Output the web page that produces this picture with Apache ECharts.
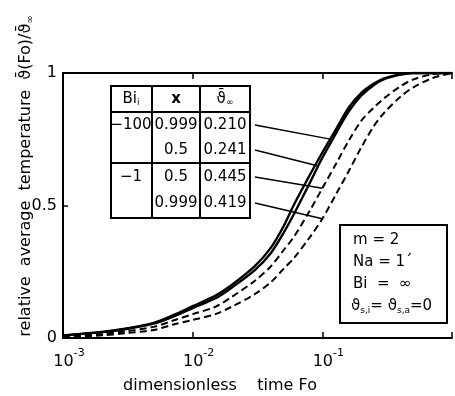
<!DOCTYPE html>
<html><head><meta charset="utf-8">
<script src="https://cdn.jsdelivr.net/npm/echarts@6/dist/echarts.min.js"></script>
<style>html,body{margin:0;padding:0;background:#fff}#c{width:455px;height:396px}</style>
</head><body><div id="c"></div>
<script>
// Fourier number grid (x axis, log scale)
const foGrid = [0.001,0.002,0.003,0.005,0.007,0.01,0.015,0.02,0.03,0.04,0.05,0.06,0.08,0.1,0.13,0.16,0.2,0.25,0.3,0.4,0.5,0.7,1];
// Bi_i = -100, x = 0.999 (solid)
const solidA = [0.01,0.023,0.035,0.057,0.085,0.12,0.16,0.20,0.27,0.34,0.42,0.50,0.615,0.70,0.795,0.87,0.925,0.96,0.98,0.995,1,1,1];
// Bi_i = -100, x = 0.5 (solid)
const solidB = [0.01,0.022,0.033,0.054,0.08,0.113,0.15,0.19,0.255,0.32,0.395,0.465,0.585,0.68,0.78,0.855,0.915,0.955,0.977,0.994,1,1,1];
// Bi_i = -1, x = 0.5 (dashed)
const dashed1 = [0.005,0.015,0.025,0.042,0.065,0.09,0.118,0.155,0.215,0.27,0.33,0.38,0.48,0.565,0.665,0.745,0.82,0.87,0.905,0.95,0.975,0.995,1];
// Bi_i = -1, x = 0.999 (dashed)
const dashed2 = [0.003,0.01,0.018,0.03,0.05,0.068,0.09,0.118,0.165,0.21,0.26,0.30,0.38,0.45,0.55,0.63,0.72,0.80,0.85,0.91,0.945,0.98,1];

// table contents
const tableBi = ['\u2212100', '', '\u22121', ''];
const tableX = ['0.999', '0.5', '0.5', '0.999'];
const tableTheta = ['0.210', '0.241', '0.445', '0.419'];
// leader line targets (which curve, at which Fo)
const leaderCurves = [solidA, solidB, dashed1, dashed2];
const leaderFo = [0.115, 0.093, 0.1, 0.1];

const yTicks = [0, 0.5, 1];

const FONT = 'DejaVu Sans';
const chart = echarts.init(document.getElementById('c'));

function toPairs(arr){ return foGrid.map((f,i)=>[f, arr[i]]); }
function interp(arr, fo){
  const lf = Math.log10(fo);
  for (let i=0;i<foGrid.length-1;i++){
    const a=Math.log10(foGrid[i]), b=Math.log10(foGrid[i+1]);
    if (lf>=a && lf<=b){ const t=(lf-a)/(b-a); return arr[i]+(arr[i+1]-arr[i])*t; }
  }
  return arr[arr.length-1];
}

const supRich = {
  b: {fontFamily: FONT, fontSize: 16, color: '#000', lineHeight: 22, verticalAlign: 'bottom', padding:[0,0,0,12]},
  s: {fontFamily: FONT, fontSize: 11, color: '#000', lineHeight: 22, verticalAlign: 'top', padding: [0,0,10,0]}
};

const lineStyleSolid = {color:'#000', width:2.4, type:'solid'};
const lineStyleDashed = {color:'#000', width:2, type:[7,4]};

function mkSeries(name, arr, style){
  return {name, type:'line', data: toPairs(arr), showSymbol:false, smooth:0.3,
    lineStyle: style, silent:true, animation:false, clip:true};
}

const gridLeft = 63, gridTop = 73, gridW = 394, gridH = 265;

const option = {
  backgroundColor: '#fff',
  animation: false,
  grid: {left: gridLeft, top: gridTop, width: gridW, height: gridH},
  xAxis: [{
    type:'log', logBase:10, min:0.001, max:1, position:'bottom',
    axisLine:{show:true, lineStyle:{color:'#000', width:2}},
    axisTick:{show:true, inside:true, length:6, lineStyle:{color:'#000', width:1.5}},
    minorTick:{show:false}, splitLine:{show:false},
    axisLabel:{margin:10, formatter: v => {
      const e = Math.round(Math.log10(v));
      if (e >= 0) return '';
      return '{b|10}{s|' + e + '}';
    }, rich: supRich}
  },{
    type:'log', logBase:10, min:0.001, max:1, position:'top',
    axisLine:{show:true, lineStyle:{color:'#000', width:2}},
    axisTick:{show:true, inside:true, length:6, lineStyle:{color:'#000', width:1.5}},
    splitLine:{show:false}, axisLabel:{show:false}
  }],
  yAxis: [{
    type:'value', min:0, max:1, interval:0.5,
    axisLine:{show:true, lineStyle:{color:'#000', width:2}},
    axisTick:{show:true, inside:true, length:5, lineStyle:{color:'#000', width:1.5}},
    splitLine:{show:false},
    axisLabel:{margin:6, color:'#000', fontFamily:FONT, fontSize:16,
      formatter: v => yTicks.includes(v) ? String(v) : ''}
  }],
  series: [
    mkSeries('Bi=-100, x=0.999', solidA, lineStyleSolid),
    mkSeries('Bi=-100, x=0.5', solidB, lineStyleSolid),
    mkSeries('Bi=-1, x=0.5', dashed1, lineStyleDashed),
    mkSeries('Bi=-1, x=0.999', dashed2, lineStyleDashed)
  ]
};
chart.setOption(option);

// ---- graphics: axis titles, table, info box, leader lines ----
const g = [];
// y axis title
g.push({type:'text', x:26, y:176, rotation:Math.PI/2, z:10,
  style:{text:'relative  average  temperature  {v|\u03D1\u0304}(Fo)/{v|\u03D1\u0304}{sub|\u221E}',
    fontFamily:FONT, fontSize:16, fill:'#000', textAlign:'center', textVerticalAlign:'middle',
    rich:{v:{fontFamily:FONT, fontSize:16, fill:'#000'}, sub:{fontFamily:FONT, fontSize:10, fill:'#000', padding:[8,0,0,0]}}}});
// x axis title
g.push({type:'text', x:220, y:386, z:10,
  style:{text:'dimensionless    time Fo', fontFamily:FONT, fontSize:16, fill:'#000',
    textAlign:'center', textVerticalAlign:'middle'}});

// table
const tL=111, tR=250, tT=86, tB=218, cols=[111,152,200,250];
const hLines=[86,112,163,218];
const rowY=[125,150,177,203];
g.push({type:'rect', shape:{x:tL,y:tT,width:tR-tL,height:tB-tT}, style:{fill:'#fff', stroke:'#000', lineWidth:2}, z:5});
hLines.forEach(y=>g.push({type:'line', shape:{x1:tL,y1:y,x2:tR,y2:y}, style:{stroke:'#000', lineWidth:2}, z:6}));
cols.forEach(x=>g.push({type:'line', shape:{x1:x,y1:tT,x2:x,y2:tB}, style:{stroke:'#000', lineWidth:2}, z:6}));
const colC=[131,176,225];
const hdrStyle = {fontFamily:FONT, fontSize:15, fill:'#000', textAlign:'center', textVerticalAlign:'middle'};
g.push({type:'text', x:colC[0], y:99, z:7, style:Object.assign({}, hdrStyle, {text:'Bi{s|i}', rich:{s:{fontFamily:FONT,fontSize:9,fill:'#000',padding:[8,0,0,0]}}})});
g.push({type:'text', x:colC[1], y:99, z:7, style:Object.assign({}, hdrStyle, {text:'x', fontWeight:'bold'})});
g.push({type:'text', x:colC[2], y:99, z:7, style:Object.assign({}, hdrStyle, {text:'\u03D1\u0304{s|\u221E}', rich:{s:{fontFamily:FONT,fontSize:9,fill:'#000',padding:[8,0,0,0]}}})});
rowY.forEach((y,i)=>{
  if (tableBi[i]) g.push({type:'text', x:colC[0], y:y, z:7, style:Object.assign({}, hdrStyle, {text:tableBi[i]})});
  g.push({type:'text', x:colC[1], y:y, z:7, style:Object.assign({}, hdrStyle, {text:tableX[i]})});
  g.push({type:'text', x:colC[2], y:y, z:7, style:Object.assign({}, hdrStyle, {text:tableTheta[i]})});
});

// leader lines
rowY.forEach((y,i)=>{
  const fo = leaderFo[i];
  const p = chart.convertToPixel({xAxisIndex:0, yAxisIndex:0}, [fo, interp(leaderCurves[i], fo)]);
  g.push({type:'line', shape:{x1:255,y1:y,x2:p[0],y2:p[1]}, style:{stroke:'#000', lineWidth:1.4}, z:4});
});

// info box
g.push({type:'rect', shape:{x:340,y:225,width:107,height:98}, style:{fill:'#fff', stroke:'#000', lineWidth:2}, z:5});
const infoStyle = {fontFamily:FONT, fontSize:15, fill:'#000', textAlign:'left', textVerticalAlign:'middle'};
g.push({type:'text', x:353, y:240, z:7, style:Object.assign({}, infoStyle, {text:'m = 2'})});
g.push({type:'text', x:353, y:262, z:7, style:Object.assign({}, infoStyle, {text:'Na = 1\u02CA'})});
g.push({type:'text', x:353, y:284, z:7, style:Object.assign({}, infoStyle, {text:'Bi  =  \u221E'})});
g.push({type:'text', x:351, y:306, z:7, style:Object.assign({}, infoStyle, {text:'\u03D1{s|s,i}= \u03D1{s|s,a}=0',
  rich:{s:{fontFamily:FONT,fontSize:9,fill:'#000',padding:[9,0,0,0]}}})});

chart.setOption({graphic: g});
</script></body></html>
